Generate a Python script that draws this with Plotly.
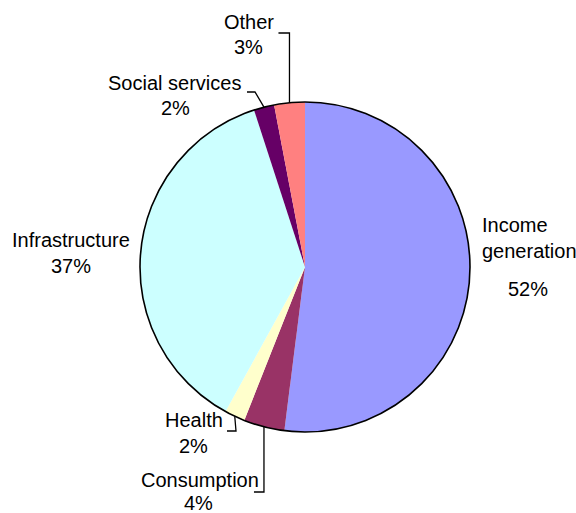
import math
import plotly.graph_objects as go

# Allocation shares by sector (percent), clockwise from 12 o'clock
sectors = ["Income generation", "Consumption", "Health", "Infrastructure", "Social services", "Other"]
shares = [52, 4, 2, 37, 2, 3]
colors = ["#9999FF", "#993366", "#FFFFCC", "#CCFFFF", "#660066", "#FF8080"]

W, H = 576, 513
CX, CY, R = 305, 267, 165  # pie centre and radius in pixels

def px(x):
    return x / W

def py(y):
    return 1 - y / H

fig = go.Figure(go.Pie(
    labels=sectors,
    values=shares,
    marker=dict(colors=colors, line=dict(width=0)),
    sort=False,
    direction="clockwise",
    rotation=0,
    textinfo="none",
    hoverinfo="label+percent",
    showlegend=False,
    domain=dict(x=[px(CX - R), px(CX + R)], y=[py(CY + R), py(CY - R)]),
))

# outer rim of the pie
shapes = [dict(type="circle", xref="paper", yref="paper",
               x0=px(CX - R), x1=px(CX + R), y0=py(CY + R), y1=py(CY - R),
               line=dict(color="black", width=1.6), fillcolor="rgba(0,0,0,0)")]

# mid-angle of each slice (degrees clockwise from top)
total = sum(shares)
mid = {}
acc = 0
for name, v in zip(sectors, shares):
    mid[name] = (acc + v / 2) / total * 360
    acc += v

def tip(name):
    a = math.radians(mid[name])
    return CX + R * math.sin(a), CY - R * math.cos(a)

# leader lines: from slice rim to an elbow, then a short horizontal run
def leader(name, elbow_y, end_dx, elbow_x=None):
    tx, ty = tip(name)
    ex = tx if elbow_x is None else elbow_x
    pts = [(tx, ty), (ex, elbow_y), (ex + end_dx, elbow_y)]
    path = "M " + " L ".join(f"{px(x)},{py(y)}" for x, y in pts)
    return dict(type="path", xref="paper", yref="paper", path=path,
                line=dict(color="black", width=1.3))

shapes.append(leader("Other", 33, -11))
shapes.append(leader("Social services", 92, -8, elbow_x=255))
shapes.append(leader("Health", 431, -9, elbow_x=236))
shapes.append(leader("Consumption", 492, -10))

FONT = dict(family="Liberation Sans, Arial, sans-serif", size=20, color="black")

def pct(name):
    return f"{shares[sectors.index(name)]}%"

label_pos = {
    # name: (name_x, name_y, pct_x, pct_y)
    "Other": (249, 22, 248, 47),
    "Social services": (174, 83, 175, 108),
    "Infrastructure": (71, 240, 71, 266),
    "Health": (194, 420, 193, 446),
    "Consumption": (200, 480, 198, 503),
}

annotations = []
for name, (nx, ny, qx, qy) in label_pos.items():
    annotations.append(dict(x=px(nx), y=py(ny), xref="paper", yref="paper", text=name,
                            showarrow=False, font=FONT, xanchor="center", yanchor="middle"))
    annotations.append(dict(x=px(qx), y=py(qy), xref="paper", yref="paper", text=pct(name),
                            showarrow=False, font=FONT, xanchor="center", yanchor="middle"))

annotations.append(dict(x=px(480), y=py(238), xref="paper", yref="paper",
                        text="Income<br>generation", align="left",
                        showarrow=False, font=FONT, xanchor="left", yanchor="middle"))
annotations.append(dict(x=px(528), y=py(289), xref="paper", yref="paper",
                        text=pct("Income generation"),
                        showarrow=False, font=FONT, xanchor="center", yanchor="middle"))

fig.update_layout(
    width=W, height=H,
    margin=dict(l=0, r=0, t=0, b=0),
    paper_bgcolor="white", plot_bgcolor="white",
    shapes=shapes, annotations=annotations,
)

fig.write_html("out.html")
